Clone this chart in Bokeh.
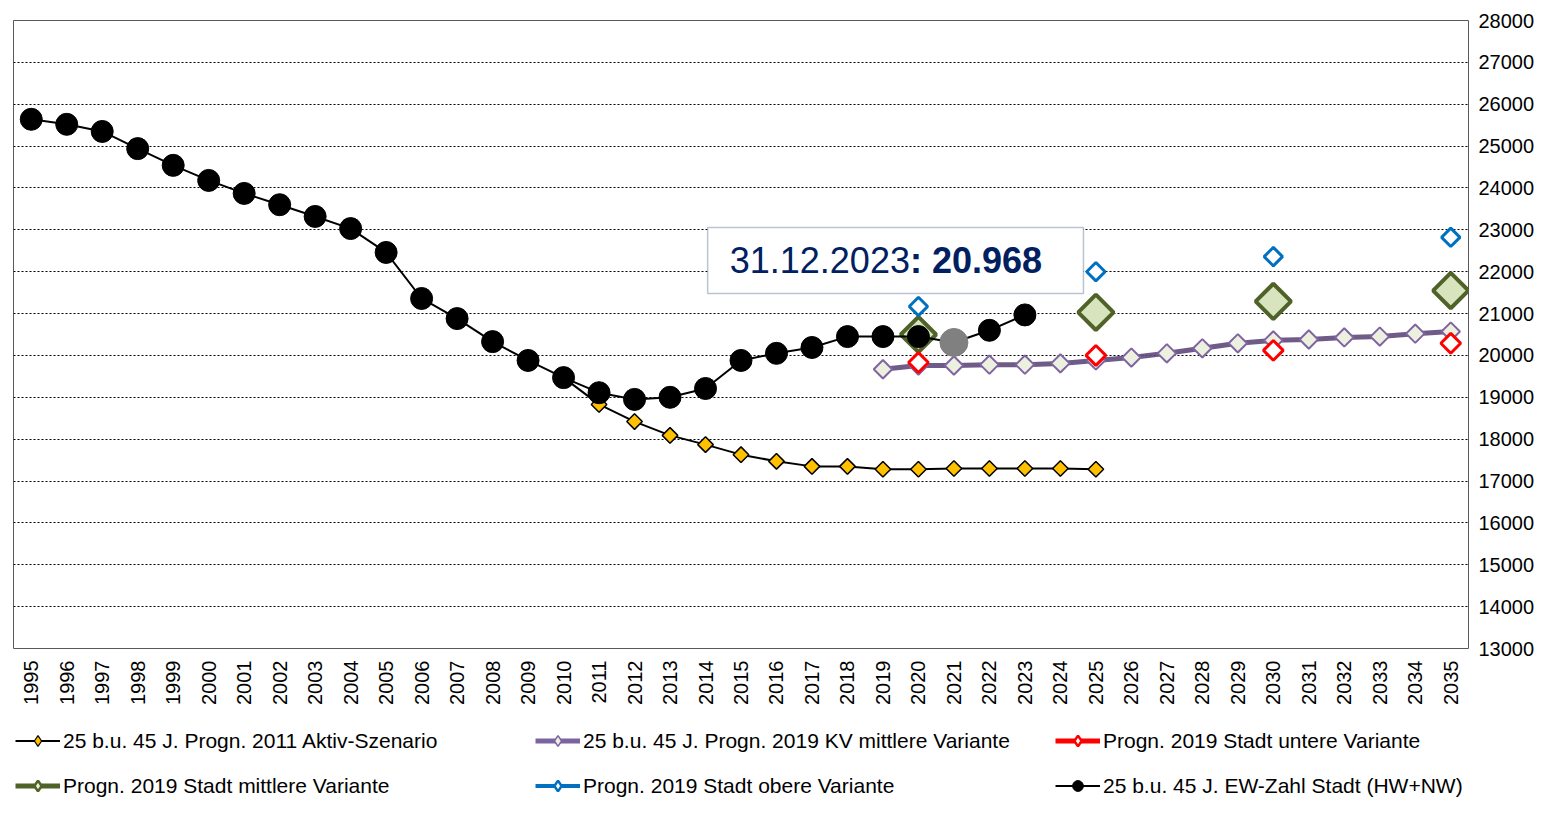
import numpy as np
from bokeh.plotting import figure
from bokeh.layouts import column
from bokeh.models import Range1d, FixedTicker, Legend, LegendItem, BoxAnnotation, Label
from bokeh.embed import file_html
from bokeh.resources import INLINE

# ---------------- data ----------------
years = list(range(1995, 2036))
y_ticks = list(range(13000, 28001, 1000))

ew_years = list(range(1995, 2024))
ew_values = [25640, 25520, 25350, 24940, 24540, 24180, 23870, 23600, 23320, 23030,
             22460, 21360, 20880, 20330, 19880, 19470, 19110, 18950, 19000, 19210,
             19880, 20050, 20190, 20450, 20450, 20450, 20310, 20600, 20968]
highlight_year = 2021

aktiv_years = list(range(2010, 2026))
aktiv_values = [19470, 18830, 18420, 18090, 17870, 17630, 17470, 17350, 17350,
                17280, 17280, 17300, 17300, 17300, 17300, 17280]

kv_years = list(range(2019, 2036))
kv_values = [19670, 19760, 19760, 19780, 19780, 19810, 19880, 19950, 20050,
             20170, 20290, 20360, 20380, 20430, 20450, 20520, 20570]

variant_years = [2020, 2025, 2030, 2035]
untere_values = [19830, 20000, 20120, 20290]
mittlere_values = [20500, 21030, 21290, 21550]
obere_values = [21170, 22000, 22360, 22820]

labels = {
    "aktiv": "25 b.u. 45 J. Progn. 2011 Aktiv-Szenario",
    "kv": "25 b.u. 45 J. Progn. 2019 KV mittlere Variante",
    "untere": "Progn. 2019 Stadt untere Variante",
    "mittlere": "Progn. 2019 Stadt mittlere Variante",
    "obere": "Progn. 2019 Stadt obere Variante",
    "ew": "25 b.u. 45 J. EW-Zahl Stadt (HW+NW)",
}
annotation_date = "31.12.2023"
annotation_value = ": 20.968"

FONT = "Liberation Sans"
ROT = np.pi / 4

# ---------------- main figure ----------------
p = figure(width=1537, height=713,
           x_range=Range1d(1994.5, 2035.5), y_range=Range1d(13000, 28000),
           y_axis_location="right", output_backend="svg", toolbar_location=None,
           min_border_left=13, min_border_top=20, min_border_bottom=65, min_border_right=4)
p.background_fill_color = "white"
p.border_fill_color = "white"
p.outline_line_color = "#595959"
p.outline_line_width = 1

for ax in (p.xaxis, p.yaxis):
    ax.major_label_text_font = FONT
    ax.major_label_text_font_size = "20px"
    ax.major_label_text_color = "black"
    ax.axis_line_color = None
    ax.major_tick_line_color = None
    ax.minor_tick_line_color = None
    ax.major_tick_out = 0
    ax.major_tick_in = 0
    ax.minor_tick_out = 0
    ax.minor_tick_in = 0

p.xaxis.ticker = FixedTicker(ticks=years)
p.xaxis.major_label_orientation = np.pi / 2
p.xaxis.major_label_standoff = 12

p.yaxis.ticker = FixedTicker(ticks=y_ticks)
p.yaxis.major_label_standoff = 10

p.xgrid.grid_line_color = None
p.ygrid.grid_line_color = "#000000"
p.ygrid.grid_line_dash = "2 2"
p.ygrid.grid_line_width = 1

# ---------------- data glyphs ----------------
p.line(aktiv_years, aktiv_values, line_color="black", line_width=2)
p.scatter(aktiv_years, aktiv_values, marker="square", angle=ROT, size=11,
          fill_color="#FFC000", line_color="black", line_width=1.5)

p.line(kv_years, kv_values, line_color="#5F497A", line_width=5, line_alpha=0.9)
p.scatter(kv_years, kv_values, marker="square", angle=ROT, size=13,
          fill_color="#EBF1DE", line_color="#8064A2", line_width=2)

p.scatter(variant_years, mittlere_values, marker="square", angle=ROT, size=25,
          fill_color="#D7E4BD", line_color="#4F6228", line_width=4)
p.scatter(variant_years, obere_values, marker="square", angle=ROT, size=13,
          fill_color="white", line_color="#0070C0", line_width=3)
p.scatter(variant_years, untere_values, marker="square", angle=ROT, size=14,
          fill_color="white", line_color="#FF0000", line_width=3)

p.line(ew_years, ew_values, line_color="black", line_width=2)
ew_x = [x for x in ew_years if x != highlight_year]
ew_y = [v for x, v in zip(ew_years, ew_values) if x != highlight_year]
p.scatter(ew_x, ew_y, marker="circle", size=22, fill_color="black", line_color="black")
hl_idx = ew_years.index(highlight_year)
p.scatter([ew_years[hl_idx]], [ew_values[hl_idx]], marker="circle", size=28,
          fill_color="#808080", line_color="#808080")

# ---------------- annotation box ----------------
p.add_layout(BoxAnnotation(left=2014.06, right=2024.65, bottom=21480, top=23056,
                           fill_color="white", fill_alpha=1.0,
                           line_color="#1F3864", line_width=1.5))
p.add_layout(Label(x=2019.76, y=22268, text=annotation_date, text_align="right",
                   text_baseline="middle", text_font=FONT, text_font_size="36px",
                   text_color="#002060"))
p.add_layout(Label(x=2019.76, y=22268, text=annotation_value, text_align="left",
                   text_baseline="middle", text_font=FONT, text_font_size="36px",
                   text_font_style="bold", text_color="#002060"))

# ---------------- legend figure ----------------
lg = figure(width=1537, height=86, x_range=Range1d(0, 1), y_range=Range1d(0, 1),
            x_axis_type=None, y_axis_type=None, output_backend="svg",
            toolbar_location=None, min_border=0)
lg.outline_line_color = None
lg.background_fill_color = "white"
lg.border_fill_color = "white"

nan = [np.nan]
def leg_line(color, width):
    return lg.line(nan, nan, line_color=color, line_width=width)
def leg_marker(marker, fill, line, width):
    return lg.scatter(nan, nan, marker=marker, fill_color=fill, line_color=line, line_width=width)

items = {
    "aktiv": [leg_line("black", 2), leg_marker("diamond", "#FFC000", "black", 1.2)],
    "kv": [leg_line("#7B64A0", 5), leg_marker("diamond", "#EBF1DE", "#8064A2", 1.5)],
    "untere": [leg_line("#FF0000", 5), leg_marker("diamond", "white", "#FF0000", 2.5)],
    "mittlere": [leg_line("#4F6228", 5), leg_marker("diamond", "#EBF1DE", "#4F6228", 2.5)],
    "obere": [leg_line("#0070C0", 4), leg_marker("diamond", "white", "#0070C0", 2.5)],
    "ew": [leg_line("black", 2), leg_marker("circle", "black", "black", 1)],
}
order = ["aktiv", "kv", "untere", "mittlere", "obere", "ew"]
leg = Legend(items=[LegendItem(label=labels[k], renderers=items[k]) for k in order],
             location=(2, 0), orientation="horizontal", ncols=3,
             padding=0, margin=0, spacing=18, glyph_width=45, glyph_height=27,
             label_height=20, label_width=454, label_standoff=3,
             label_text_font=FONT, label_text_font_size="21px",
             label_text_color="black", background_fill_alpha=0,
             border_line_color=None)
lg.add_layout(leg, "center")

layout = column(p, lg, spacing=0)
open("out.html", "w").write(file_html(layout, INLINE))
